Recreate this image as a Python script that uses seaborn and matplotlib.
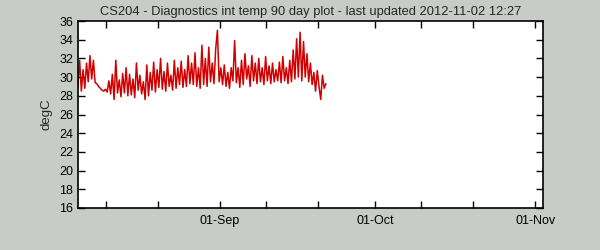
import matplotlib
matplotlib.use("Agg")
import matplotlib.pyplot as plt
import matplotlib.dates as mdates
import numpy as np
import pandas as pd
import seaborn as sns

# Readings every 8 hours starting 2012-08-04 12:00
start_time = "2012-08-04 12:00"
step = "8h"
temps = [
    29.0, 31.8, 28.5,  30.8, 28.8, 31.5,  29.5, 32.3, 29.8,  31.8, 29.4, 29.3,
    29.0, 28.8, 28.6,  28.5, 28.7, 28.4,  29.6, 28.2, 30.3,  27.6, 31.8, 28.3,
    29.7, 27.9, 30.4,  28.3, 31.0, 28.0,  30.3, 28.1, 29.8,  27.8, 31.5, 28.6,
    30.2, 28.2, 29.5,  27.6, 31.3, 28.0,  30.5, 28.6, 31.6,  28.4, 30.8, 28.9,
    32.0, 28.7, 30.6,  28.5, 31.5, 29.0,  30.2, 28.6, 31.8,  28.8, 31.0, 29.2,
    31.7, 28.9, 30.8,  29.0, 32.3, 29.3,  31.5, 29.2, 32.6,  29.0, 31.0, 28.8,
    33.4, 29.2, 32.0,  29.0, 33.2, 29.5,  31.5, 29.3, 33.0,  35.0, 29.5, 31.0,
    29.2, 31.3, 29.0,  30.5, 28.8, 31.0,  29.6, 33.9, 29.4,  31.0, 28.9, 31.8,
    29.2, 32.5, 29.8,  31.2, 29.0, 32.3,  29.6, 31.5, 29.3,  32.0, 29.5, 31.0,
    29.2, 32.2, 29.6,  31.2, 29.3, 31.5,  29.5, 30.8, 29.6,  31.6, 29.4, 32.2,
    29.6, 31.0, 29.3,  31.8, 29.5, 32.9,  29.8, 34.1, 30.0,  34.8, 29.6, 33.8,
    30.0, 32.5, 29.5,  31.5, 29.2, 30.5,  28.5, 30.7, 29.0,  27.6, 30.2, 28.8,
    29.3,
]
x_start, x_end = "2012-08-04 12:27", "2012-11-02 12:27"
y_ticks = [16, 18, 20, 22, 24, 26, 28, 30, 32, 34, 36]
title = "CS204 - Diagnostics int temp 90 day plot - last updated 2012-11-02 12:27"

df = pd.DataFrame({"time": pd.date_range(start_time, periods=len(temps), freq=step),
                   "temp": temps})

sns.set_style("ticks")
plt.rcParams["font.family"] = ["Liberation Sans", "DejaVu Sans"]

bg = "#c8ccc6"
fig = plt.figure(figsize=(6, 2.5), dpi=100, facecolor=bg)
ax = fig.add_axes([78 / 600, 1 - 208 / 250, (543 - 78) / 600, (208 - 21) / 250])
ax.set_facecolor("white")

sns.lineplot(data=df, x="time", y="temp", ax=ax, color="#d00000", linewidth=1.1)

ax.set_xlim(pd.Timestamp(x_start), pd.Timestamp(x_end))
ax.set_ylim(16, 36)
ax.set_yticks(y_ticks)
ax.xaxis.set_major_locator(mdates.MonthLocator(bymonthday=1))
ax.xaxis.set_major_formatter(mdates.DateFormatter("%d-%b"))
ax.xaxis.set_minor_locator(mdates.DayLocator(bymonthday=[10, 20]))
ax.tick_params(axis="both", which="both", direction="in", top=True, right=True,
               labelsize=9, colors="black", length=5, width=1)
ax.tick_params(axis="x", which="major", pad=5)
for s in ax.spines.values():
    s.set_visible(True)
    s.set_color("black")
    s.set_linewidth(1.2)
ax.set_xlabel("")
ax.set_ylabel("degC", fontsize=9.5, labelpad=5)
ax.set_title(title, fontsize=9.3, pad=4)

fig.savefig("out.png", dpi=100, facecolor=bg)
